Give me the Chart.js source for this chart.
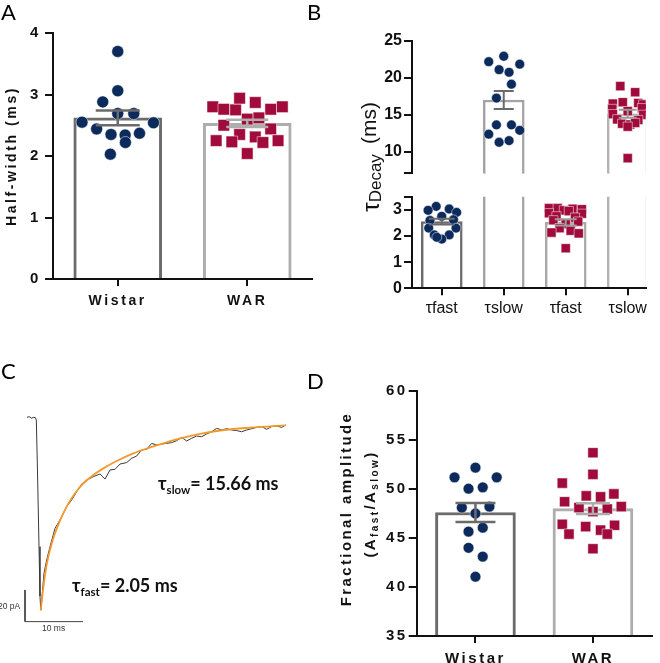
<!DOCTYPE html>
<html>
<head>
<meta charset="utf-8">
<script src="https://cdn.jsdelivr.net/npm/chart.js@4/dist/chart.umd.min.js"></script>
<style>
  body { margin: 0; width: 660px; height: 663px; background: #fff; position: relative; overflow: hidden; }
  canvas { position: absolute; }
  .letter { position: absolute; font-family: Lato, "Open Sans", sans-serif; font-size: 22px; line-height: 1; color: #000; }
  .rot { position: absolute; white-space: nowrap; transform: translate(-50%, -50%) rotate(-90deg); color: #111; line-height: 1; }
  .tau { position: absolute; white-space: nowrap; font-family: Lato, "Open Sans", sans-serif; font-weight: bold; font-size: 18px; line-height: 1; color: #111; }
  .tau sub { font-size: 11.5px; vertical-align: -4px; line-height: 0; }
  .small { position: absolute; white-space: nowrap; font-family: "Liberation Sans", Arial, sans-serif; font-size: 8.5px; line-height: 1; color: #333; }
</style>
</head>
<body>
<canvas id="cA" width="330" height="320" style="left:0;top:0"></canvas>
<canvas id="cBup" width="330" height="185" style="left:330px;top:0"></canvas>
<canvas id="cBlo" width="330" height="145" style="left:330px;top:185px"></canvas>
<canvas id="cC" width="330" height="333" style="left:0;top:330px"></canvas>
<canvas id="cD" width="330" height="333" style="left:330px;top:330px"></canvas>

<div class="letter" style="left:1px;top:1px">A</div>
<div class="letter" style="left:307px;top:1px">B</div>
<div class="letter" style="left:1px;top:360px">C</div>
<div class="letter" style="left:307px;top:370px">D</div>

<div class="rot" style="left:371px;top:183px;font-family:'Liberation Sans',Arial,sans-serif;font-size:24px">τ<span style="font-size:17px;vertical-align:-2px">Decay</span></div>
<div class="rot" style="left:368px;top:123px;font-family:'Liberation Sans Narrow','Liberation Sans',Arial,sans-serif;font-size:21px">(ms)</div>

<div class="rot" style="left:345px;top:509px;font-family:'Liberation Sans',Arial,sans-serif;font-weight:bold;font-size:15px;letter-spacing:2.4px">Fractional amplitude</div>
<div class="rot" style="left:371px;top:504px;font-family:'Liberation Sans',Arial,sans-serif;font-weight:bold;font-size:15px;letter-spacing:2.4px">(A<span style="font-size:10px;vertical-align:-3px">fast</span>/A<span style="font-size:10px;vertical-align:-3px">slow</span>)</div>

<div class="tau" style="left:158px;top:474px">τ<sub>slow</sub>= 15.66 ms</div>
<div class="tau" style="left:72px;top:576px">τ<sub>fast</sub>= 2.05 ms</div>
<div class="small" style="left:-2px;top:602px">20 pA</div>
<div class="small" style="left:42px;top:624px">10 ms</div>

<script>
// ---- categories ----
const groups = ['Wistar', 'WAR'];
const decayLabels = ['τfast', 'τslow', 'τfast', 'τslow'];

// ---- A: half-width (ms) ----
const halfWidthMean = [2.62, 2.53];
const halfWidthSem = [0.12, 0.06];
const halfWidthWistar = [3.70, 3.06, 2.88, 2.69, 2.69, 2.55, 2.54, 2.44, 2.37, 2.35, 2.34, 2.22, 2.03];
const halfWidthWistarJit = [0, 0, -0.116, 0.124, 0, -0.276, 0.276, -0.163, 0.168, -0.052, 0.057, 0.059, -0.057];
const halfWidthWar = [2.80, 2.76, 2.75, 2.94, 2.87, 2.76, 2.80, 2.60, 2.62, 2.50, 2.44, 2.35, 2.31, 2.25, 2.23, 2.22, 2.25, 2.04];
const halfWidthWarJit = [-0.266, -0.181, -0.090, -0.059, 0.062, 0.181, 0.271, 0, 0.090, -0.181, 0.181, -0.059, 0.062, -0.240, -0.119, 0.121, 0.238, 0];

// ---- B: tau decay (ms) ----
const decayMean = [2.55, 17.0, 2.52, 15.15];
const decaySem = [0.11, 1.2, 0.12, 0.54];
const decayWistarFast = [3.13, 2.98, 3.03, 2.90, 2.75, 2.59, 2.62, 2.30, 2.30, 2.04, 2.04, 1.88, 1.95];
const decayWistarFastJit = [-0.09, -0.22, 0.12, 0.24, 0, -0.19, 0.19, -0.21, 0.23, -0.12, 0.12, 0, -0.08];
const decayWistarSlow = [22.9, 22.17, 21.83, 21.09, 20.74, 19.13, 17.26, 13.65, 13.65, 12.39, 12.91, 11.30, 11.52];
const decayWistarSlowJit = [0, -0.242, 0.258, -0.075, 0.086, 0.124, -0.118, -0.118, 0.124, -0.242, 0.258, -0.075, 0.086];
const decayWarFast = [3.06, 3.06, 3.04, 3.02, 2.98, 2.95, 2.87, 2.85, 2.75, 2.70, 2.60, 2.55, 2.45, 2.30, 2.20, 2.13, 2.10, 1.53];
const decayWarFastJit = [-0.27, -0.13, 0.11, 0.26, -0.03, 0.05, -0.27, 0.26, -0.15, 0.15, -0.2, 0.2, 0, -0.1, 0.08, -0.23, 0.21, 0];
const decayWarSlow = [18.87, 18.05, 16.5, 16.7, 16.6, 16.4, 15.8, 15.9, 15.5, 15.1, 15.0, 14.4, 14.3, 13.8, 13.7, 13.9, 13.4, 9.15];
const decayWarSlowJit = [-0.12, 0.12, -0.24, -0.08, 0.17, 0.25, -0.25, 0.23, 0, -0.24, 0.25, -0.17, 0.17, -0.09, 0.04, 0.12, 0, 0];

// ---- C: example trace (ms, pA) ----
const traceTime = [0, 0.4, 0.8, 1.09, 1.44, 1.61, 1.84, 2.07, 2.24, 2.36, 2.41, 2.64, 2.93, 3.39, 3.97, 4.83, 5.69, 6.84, 7.70, 8.56, 9.43, 10.29, 11.44, 12.59, 13.45, 14.31, 15.17, 16.03, 17.18, 18.05, 18.91, 19.77, 20.63, 21.49, 22.36, 23.22, 24.08, 24.94, 25.80, 26.67, 27.53, 28.39, 29.25, 30.11, 30.98, 31.84, 32.70, 33.56, 34.43, 35.29, 36.15, 37.01, 37.87, 38.74, 39.60, 40.46, 41.32, 42.18, 43.05, 43.91, 44.60];
const traceCurrent = [-0.2, 0.2, -0.8, -0.2, -0.4, -1.9, -39.4, -81, -112, -120.2, -120.6, -110.2, -97.7, -89.4, -81, -69.6, -64.4, -56, -51.9, -46.7, -41.9, -39.4, -37.3, -35.6, -38.8, -33.1, -32.7, -29.4, -28.5, -25.8, -24.4, -20.6, -20.2, -16.5, -17.5, -16.9, -16.5, -16.0, -14.8, -12.7, -15.0, -13.3, -11.9, -12.3, -10.6, -9.2, -7.1, -8.1, -7.3, -8.1, -8.5, -9.2, -8.1, -7.3, -6.5, -6.0, -7.7, -6.0, -5.6, -6.5, -5.0];
const fitTime = [2.36, 2.70, 3.10, 3.68, 4.54, 5.69, 6.84, 8.28, 9.71, 11.44, 13.16, 15.46, 18.33, 21.21, 24.08, 26.95, 29.83, 32.70, 35.57, 38.45, 41.32, 44.60];
const fitCurrent = [-121.0, -110.2, -98.8, -87.3, -75.8, -64.8, -56.0, -47.7, -41.5, -36.3, -32.1, -27.5, -22.7, -19.0, -15.8, -12.9, -10.6, -8.75, -7.5, -6.7, -6.0, -5.2];
const scaleBarTime = [-0.34, -0.34, 9.66];
const scaleBarCurrent = [-108.1, -127.9, -127.9];

// ---- D: fractional amplitude ----
const fracMean = [47.6, 48.0];
const fracSem = [0.97, 0.55];
const fracWistar = [52.18, 51.19, 51.19, 50.03, 50.17, 48.1, 48.2, 47.5, 45.65, 46.05, 44.0, 43.1, 41.05];
const fracWistarJit = [0, -0.178, 0.181, -0.059, 0.062, -0.116, 0.119, 0, -0.059, 0.062, -0.059, 0.062, 0];
const fracWar = [53.7, 51.5, 50.6, 49.5, 49.3, 49.2, 48.7, 48.2, 48.1, 47.96, 47.7, 46.4, 46.16, 46.3, 45.4, 45.8, 45.4, 43.9];
const fracWarJit = [0, 0, -0.261, 0.178, -0.057, 0.065, -0.241, 0.241, -0.119, 0.122, 0, -0.261, -0.062, 0.184, -0.204, 0.065, 0.122, 0];

const navy = '#0c2b5c';
const crimson = '#a00b3b';
const dark = '#6b6b6b';
const light = '#adadad';

Chart.defaults.font.family = '"Liberation Sans", Arial, sans-serif';
Chart.defaults.color = '#111';
Chart.defaults.animation = false;
Chart.defaults.events = [];
Chart.defaults.plugins.legend.display = false;
Chart.defaults.plugins.tooltip.enabled = false;

// canvas letter spacing for the Prism-like spaced labels
const spacing = {
  id: 'spacing',
  beforeDraw(chart, args, opts) { chart.ctx.letterSpacing = (opts.px || 0) + 'px'; }
};

// mean +/- sem drawn through the chart scales
const errorBars = {
  id: 'errorBars',
  afterDatasetsDraw(chart, args, o) {
    const {ctx, chartArea: a, scales: {x, y}} = chart;
    ctx.save();
    ctx.beginPath();
    ctx.rect(a.left, a.top, a.right - a.left, a.bottom - a.top);
    ctx.clip();
    ctx.lineWidth = o.width;
    o.mean.forEach((m, i) => {
      const px = x.getPixelForValue(i + 1);
      const top = y.getPixelForValue(m + o.sem[i]);
      const bot = y.getPixelForValue(m - o.sem[i]);
      const w = o.cap[i];
      ctx.strokeStyle = o.colors[i];
      ctx.beginPath();
      ctx.moveTo(px, top); ctx.lineTo(px, bot);
      ctx.moveTo(px - w, top); ctx.lineTo(px + w, top);
      ctx.moveTo(px - w, bot); ctx.lineTo(px + w, bot);
      ctx.stroke();
    });
    ctx.restore();
  }
};

function pts(vals, jit, pos) {
  return vals.map((v, i) => ({x: pos + jit[i], y: v}));
}

function dots(vals, jit, pos, color, style, r) {
  return {
    type: 'scatter', data: pts(vals, jit, pos), order: 1,
    pointStyle: style, pointRadius: r, pointBackgroundColor: color,
    pointBorderColor: 'rgba(255,255,255,0.7)', pointBorderWidth: 0.7
  };
}

function bars(means, edges, width, thick) {
  return {
    type: 'bar', order: 3,
    data: means.map((m, i) => ({x: i + 1, y: m})),
    backgroundColor: '#fff', borderColor: edges, borderWidth: width,
    borderSkipped: 'start', barThickness: thick
  };
}

function yAxis(min, max, ticks, labelled, width, font, pad) {
  return {
    type: 'linear', min, max, bounds: 'data',
    afterBuildTicks: s => { s.ticks = ticks.map(v => ({value: v})); },
    afterFit: s => { s.width = width; },
    ticks: {font, color: '#111', padding: pad, callback: v => labelled.includes(v) ? String(v) : ''},
    grid: {drawOnChartArea: false, drawTicks: true, tickLength: 8, color: '#111', lineWidth: 2},
    border: {display: true, color: '#111', width: 2, z: 1}
  };
}

function xAxis(min, max, labels, height, font, pad) {
  return {
    type: 'linear', min, max, bounds: 'data', offset: false,
    afterBuildTicks: s => { s.ticks = labels.map((l, i) => ({value: i + 1})); },
    afterFit: s => { s.height = height; },
    ticks: {font, color: '#111', padding: pad, maxRotation: 0, autoSkip: false, callback: v => labels[v - 1]},
    grid: {offset: false, drawOnChartArea: false, drawTicks: true, tickLength: 7, color: '#111', lineWidth: 2},
    border: {display: true, color: '#111', width: 2, z: 1}
  };
}

// ---- Panel A ----
new Chart(document.getElementById('cA'), {
  type: 'bar',
  data: {datasets: [
    bars(halfWidthMean, [dark, light], 3, 88),
    dots(halfWidthWistar, halfWidthWistarJit, 1, navy, 'circle', 6),
    dots(halfWidthWar, halfWidthWarJit, 2, crimson, 'rect', 8.2)
  ]},
  options: {
    responsive: false,
    layout: {padding: {top: 33, right: 18, left: 0, bottom: 0}},
    scales: {
      x: xAxis(0.5, 2.5, groups, 41, {size: 14, weight: 'bold'}, 7),
      y: Object.assign(yAxis(0, 4, [0, 1, 2, 3, 4], [0, 1, 2, 3, 4], 53, {size: 15, weight: 'bold'}, 4), {
        title: {display: true, text: 'Half-width (ms)', font: {size: 14, weight: 'bold'}, color: '#111', padding: {top: 4, bottom: 0}}
      })
    },
    plugins: {
      spacing: {px: 2.6},
      errorBars: {mean: halfWidthMean, sem: halfWidthSem, colors: [dark, light], cap: [22, 21], width: 2.5}
    }
  },
  plugins: [spacing, errorBars]
});

// ---- Panel B (broken axis: upper and lower parts) ----
const decayEdges = [dark, '#a3a3a3', '#a8a8a8', '#b3b3b3'];
const decayErrColors = [dark, dark, '#9a9a9a', '#9a9a9a'];
function decaySets(r, s) {
  return [
    bars(decayMean, decayEdges, 2.5, 41),
    dots(decayWistarFast, decayWistarFastJit, 1, navy, 'circle', r),
    dots(decayWistarSlow, decayWistarSlowJit, 2, navy, 'circle', r),
    dots(decayWarFast, decayWarFastJit, 3, crimson, 'rect', s),
    dots(decayWarSlow, decayWarSlowJit, 4, crimson, 'rect', s)
  ];
}
const bTick = {size: 16, weight: 'bold'};

new Chart(document.getElementById('cBup'), {
  type: 'bar',
  data: {datasets: decaySets(4.9, 6.5)},
  options: {
    responsive: false,
    layout: {padding: {top: 40.7, right: 14.3, left: 0, bottom: 7}},
    scales: {
      x: Object.assign(xAxis(0.52, 4.29, decayLabels, 0, {size: 16}, 3), {display: false}),
      y: yAxis(7.1, 25, [7.1, 10, 15, 20, 25], [10, 15, 20, 25], 82, bTick, 2)
    },
    plugins: {
      errorBars: {mean: decayMean, sem: decaySem, colors: decayErrColors, cap: [13, 10, 11, 9], width: 2}
    }
  },
  plugins: [errorBars]
});

new Chart(document.getElementById('cBlo'), {
  type: 'bar',
  data: {datasets: decaySets(4.9, 6.5)},
  options: {
    responsive: false,
    layout: {padding: {top: 11.7, right: 14.3, left: 0, bottom: 0}},
    scales: {
      x: xAxis(0.52, 4.29, decayLabels, 41.7, {size: 16}, 4),
      y: yAxis(0, 3.5, [0, 1, 2, 3, 3.5], [0, 1, 2, 3], 82, bTick, 2)
    },
    plugins: {
      errorBars: {mean: decayMean, sem: decaySem, colors: decayErrColors, cap: [13, 10, 11, 9], width: 2}
    }
  },
  plugins: [errorBars]
});

// ---- Panel C: trace with biexponential fit ----
const xy = (t, c) => t.map((v, i) => ({x: v, y: c[i]}));
new Chart(document.getElementById('cC'), {
  type: 'scatter',
  data: {datasets: [
    {data: xy(fitTime, fitCurrent), showLine: true, borderColor: '#f39a2e', borderWidth: 1.8, pointRadius: 0, cubicInterpolationMode: 'monotone', order: 1},
    {data: xy(traceTime, traceCurrent), showLine: true, borderColor: '#3a3a3a', borderWidth: 1, pointRadius: 0, order: 2},
    {data: xy(scaleBarTime, scaleBarCurrent), showLine: true, borderColor: '#444', borderWidth: 1, pointRadius: 0, order: 3}
  ]},
  options: {
    responsive: false,
    layout: {padding: 0},
    scales: {
      x: {type: 'linear', display: false, bounds: 'data', min: -4.655, max: 52.24},
      y: {type: 'linear', display: false, bounds: 'data', min: -153.75, max: 54.375}
    }
  }
});

// ---- Panel D ----
new Chart(document.getElementById('cD'), {
  type: 'bar',
  data: {datasets: [
    bars(fracMean, [dark, light], 3, 80),
    dots(fracWistar, fracWistarJit, 1, navy, 'circle', 5.4),
    dots(fracWar, fracWarJit, 2, crimson, 'rect', 7.2)
  ]},
  options: {
    responsive: false,
    layout: {padding: {top: 61, right: 8.3, left: 0, bottom: 0}},
    scales: {
      x: xAxis(0.5, 2.5, groups, 27, {size: 15, weight: 'bold'}, 7),
      y: yAxis(35, 60, [35, 40, 45, 50, 55, 60], [35, 40, 45, 50, 55, 60], 86.7, {size: 15, weight: 'bold'}, 1)
    },
    plugins: {
      spacing: {px: 2.5},
      errorBars: {mean: fracMean, sem: fracSem, colors: [dark, light], cap: [20, 17], width: 2.5}
    }
  },
  plugins: [spacing, errorBars]
});
</script>
</body>
</html>
